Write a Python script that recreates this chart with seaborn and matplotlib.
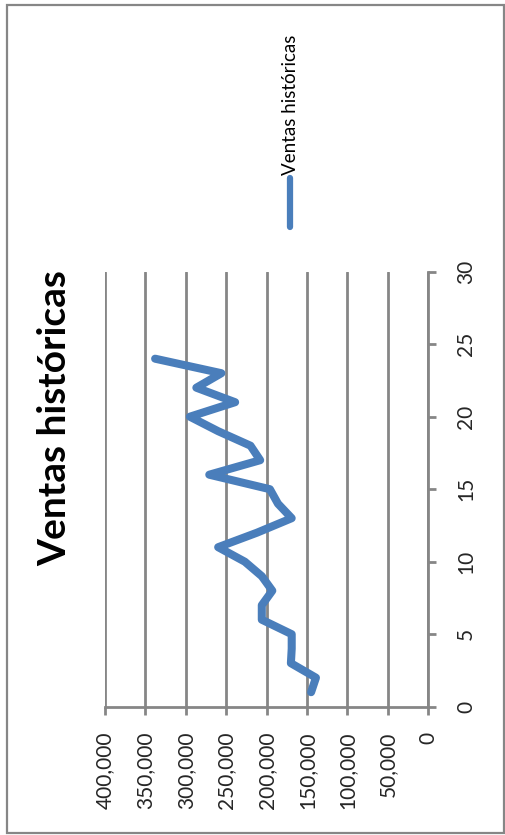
import matplotlib
matplotlib.use("Agg")
import matplotlib.pyplot as plt
import seaborn as sns
import pandas as pd
from matplotlib.lines import Line2D
from matplotlib.patches import Rectangle

periods = list(range(1, 25))
ventas = [145000, 139000, 170000, 169000, 169000, 206000, 206000, 193000,
          206000, 227000, 260000, 212000, 169000, 186000, 196000, 271000,
          208000, 220000, 260000, 295000, 239000, 287000, 256000, 338000]
sales_ticks = [0, 50000, 100000, 150000, 200000, 250000, 300000, 350000, 400000]
period_ticks = [0, 5, 10, 15, 20, 25, 30]
title = "Ventas históricas"
series_name = "Ventas históricas"

sns.set_theme(style="white")
plt.rcParams['font.family'] = ['Lato', 'DejaVu Sans']

GRAY = "#868686"
BLUE = "#4A7EBB"

fig = plt.figure(figsize=(5.06, 8.35), dpi=100)
ax = fig.add_axes([105/506, 1-706.7/835, 323.3/506, 435/835])

df = pd.DataFrame({"Periodo": periods, "Ventas": ventas})
sns.lineplot(data=df, x="Ventas", y="Periodo", orient="y", ax=ax,
             color=BLUE, linewidth=5.8, solid_capstyle="round",
             solid_joinstyle="round", legend=False)

ax.set_xlim(400000, 0)
ax.set_ylim(0, 30)
ax.set_xticks(sales_ticks)
ax.set_xticklabels([f"{v:,}" for v in sales_ticks])
ax.set_yticks(period_ticks)
ax.set_yticklabels([str(v) for v in period_ticks])
ax.set_xlabel("")
ax.set_ylabel("")

ax.grid(axis="x", color=GRAY, linewidth=2)
ax.grid(axis="y", visible=False)
ax.set_axisbelow(True)

for s in ["top", "left"]:
    ax.spines[s].set_visible(False)
for s in ["right", "bottom"]:
    ax.spines[s].set_color(GRAY)
    ax.spines[s].set_linewidth(2)

ax.yaxis.tick_right()
ax.tick_params(axis="y", which="major", direction="out", length=6, width=2,
               color=GRAY, labelrotation=90, labelsize=15, pad=14,
               right=True, left=False)
ax.tick_params(axis="x", which="major", direction="out", length=6, width=2,
               color=GRAY, labelrotation=90, labelsize=15, pad=12,
               bottom=True)
for lab in ax.get_yticklabels():
    lab.set_verticalalignment("center")
    lab.set_horizontalalignment("left")

fig.text(55/506, 1-418/835, title, rotation=90, ha="center", va="center",
         fontsize=28, fontweight="bold", color="black")

fig.add_artist(Line2D([290/506, 290/506], [1-227/835, 1-178/835],
                      transform=fig.transFigure, color=BLUE, linewidth=4.5,
                      solid_capstyle="round"))
fig.text(291/506, 1-175/835, series_name, rotation=90, ha="center", va="bottom",
         fontsize=13.5, color="black")

fig.add_artist(Rectangle((7/506, 1-832.5/835), 497.5/506, 828/835,
                         transform=fig.transFigure, fill=False,
                         edgecolor=GRAY, linewidth=1.6))

fig.savefig("out.png", dpi=100)
